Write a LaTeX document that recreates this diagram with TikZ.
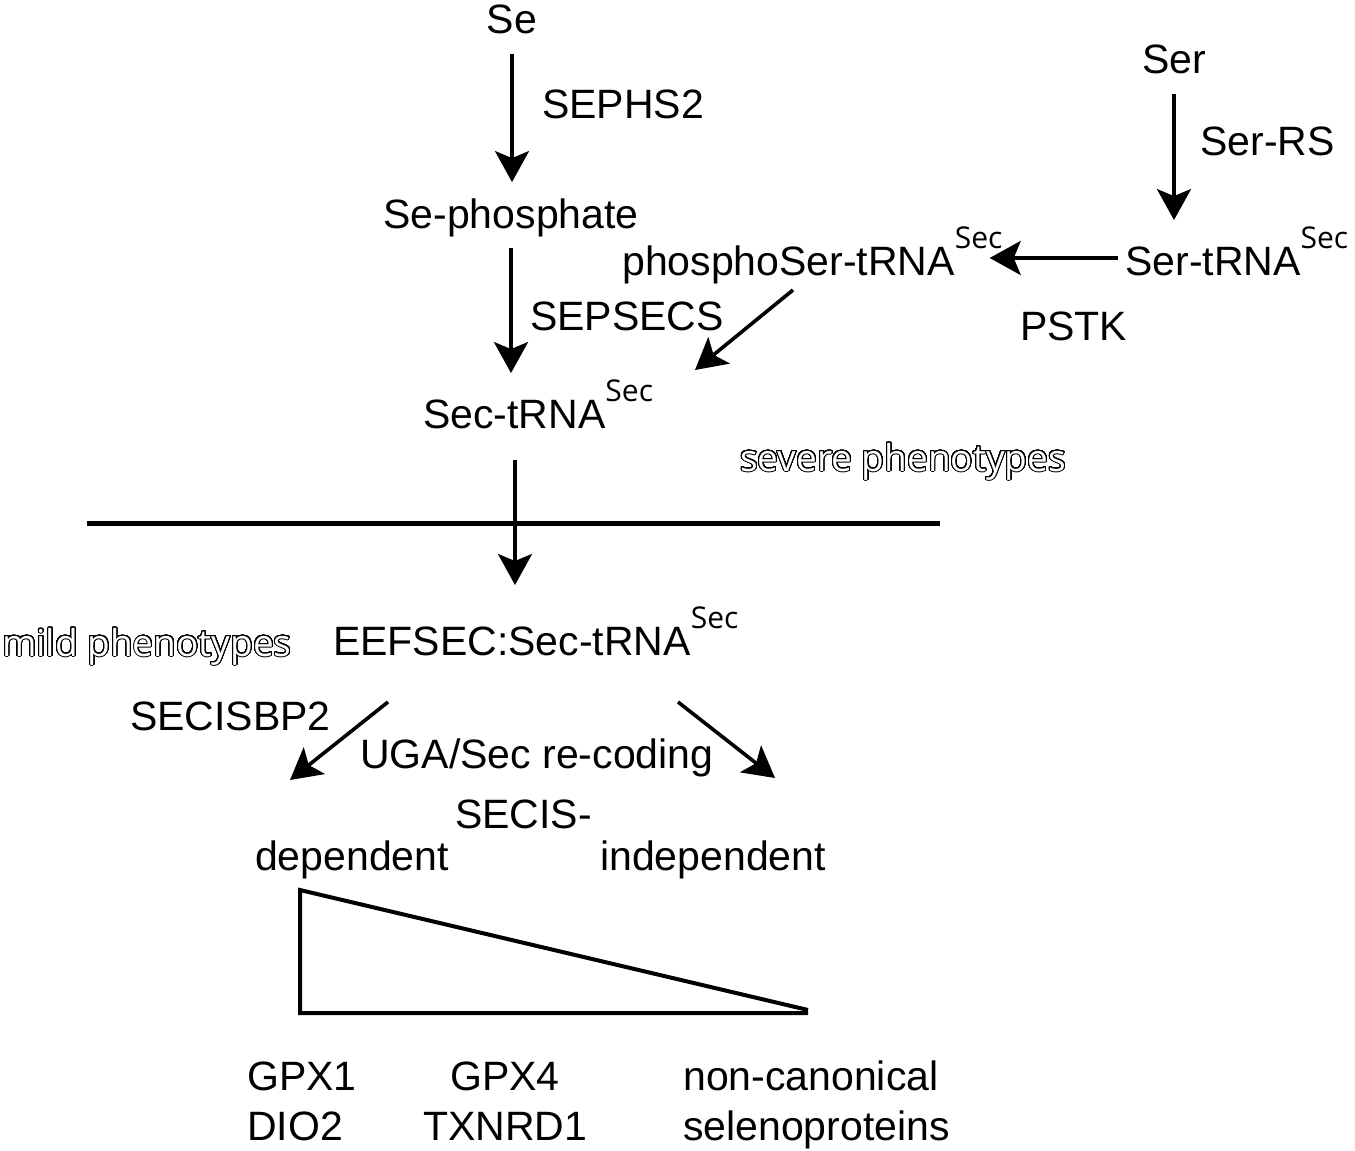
\documentclass[tikz,border=0pt]{standalone}
\usepackage{fontspec}
\setmainfont{Liberation Sans}
\newfontfamily\supfont{Open Sans}
\newfontfamily\outfont{Open Sans}
\usepackage[copies]{contour}
\contourlength{1.0pt}
\contournumber{48}
\usetikzlibrary{arrows.meta,calc}
\newcommand\tsup{\raisebox{27pt}{\supfont\fontsize{30}{30}\selectfont Sec}}
\begin{document}
\begin{tikzpicture}[x=1pt,y=-1pt,
  lbl/.style={inner sep=0pt, anchor=base west, font=\fontsize{41}{48}\selectfont},
  outl/.style={inner sep=0pt, anchor=base west, text=white, font=\outfont\fontsize{37}{40}\selectfont},
  arr/.style={line width=3.6pt, -{Stealth[length=31pt,width=34pt,inset=7pt]}},
  bar/.style={line width=5pt},
  tri/.style={line width=4pt}]
\useasboundingbox (0,0) rectangle (1355,1151);
% nodes
\node[lbl,anchor=base] (se) at (512,33) {Se};
\node[lbl] (sephs2) at (542,118) {SEPHS2};
\node[lbl,anchor=base] (sephos) at (511,228) {Se-phosphate};
\node[lbl] (sepsecs) at (530,330) {SEPSECS};
\node[lbl] (phos) at (622,275) {phosphoSer-tRNA\tsup};
\node[lbl,anchor=base] (ser) at (1174,73) {Ser};
\node[lbl] (serrs) at (1200,155) {Ser-RS};
\node[lbl] (sertrna) at (1125,275) {Ser-tRNA\tsup};
\node[lbl] (pstk) at (1020,340) {PSTK};
\node[lbl] (sectrna) at (423,428) {Sec-tRNA\tsup};
\node[outl] (severe) at (740,471) {\contour{black}{severe phenotypes}};
\node[lbl] (eef) at (333,655) {EEFSEC:Sec-tRNA\tsup};
\node[outl] (mild) at (2,656) {\contour{black}{mild phenotypes}};
\node[lbl] (secisbp2) at (130,730) {SECISBP2};
\node[lbl] (uga) at (360,768) {UGA/Sec re-coding};
\node[lbl] (secis) at (455,828) {SECIS-};
\node[lbl] (dep) at (255,870) {dependent};
\node[lbl] (indep) at (600,870) {independent};
\node[lbl] (gpx1) at (247,1090) {GPX1};
\node[lbl] (dio2) at (247,1140) {DIO2};
\node[lbl] (gpx4) at (450,1090) {GPX4};
\node[lbl] (txnrd1) at (423,1140) {TXNRD1};
\node[lbl] (noncan) at (683,1090) {non-canonical};
\node[lbl] (seleno) at (683,1140) {selenoproteins};
% connectors
\draw[arr, shorten <=20pt, shorten >=16pt] (se.south) -- (se.south |- sephos.north);
\draw[arr, shorten <=11pt, shorten >=6pt] (sephos.south) -- (sephos.south |- sectrna.north);
\draw[arr, shorten <=20pt, shorten >=6pt] (ser.south) -- (ser.south |- sertrna.north);
\draw[arr] ($(sertrna.base west)+(-7,-17)$) -- ($(phos.base east)+(-13,-17)$);
\draw[arr] ($(phos.base west)+(171,15)$) -- ($(sectrna.base west)+(272,-58)$);
\draw[arr] ($(sectrna.base west)+(92,32)$) -- ($(eef.base west)+(182,-70)$);
\draw[arr] ($(eef.base west)+(55,47)$) -- ($(dep.base west)+(35,-90)$);
\draw[arr] ($(eef.base west)+(345,47)$) -- ($(indep.base west)+(175,-92)$);
% shapes
\draw[bar] (87,523) -- (940,523);
\draw[tri] (808,1010) -- (300,890) -- (300,1013) -- (808,1013);
\end{tikzpicture}
\end{document}
